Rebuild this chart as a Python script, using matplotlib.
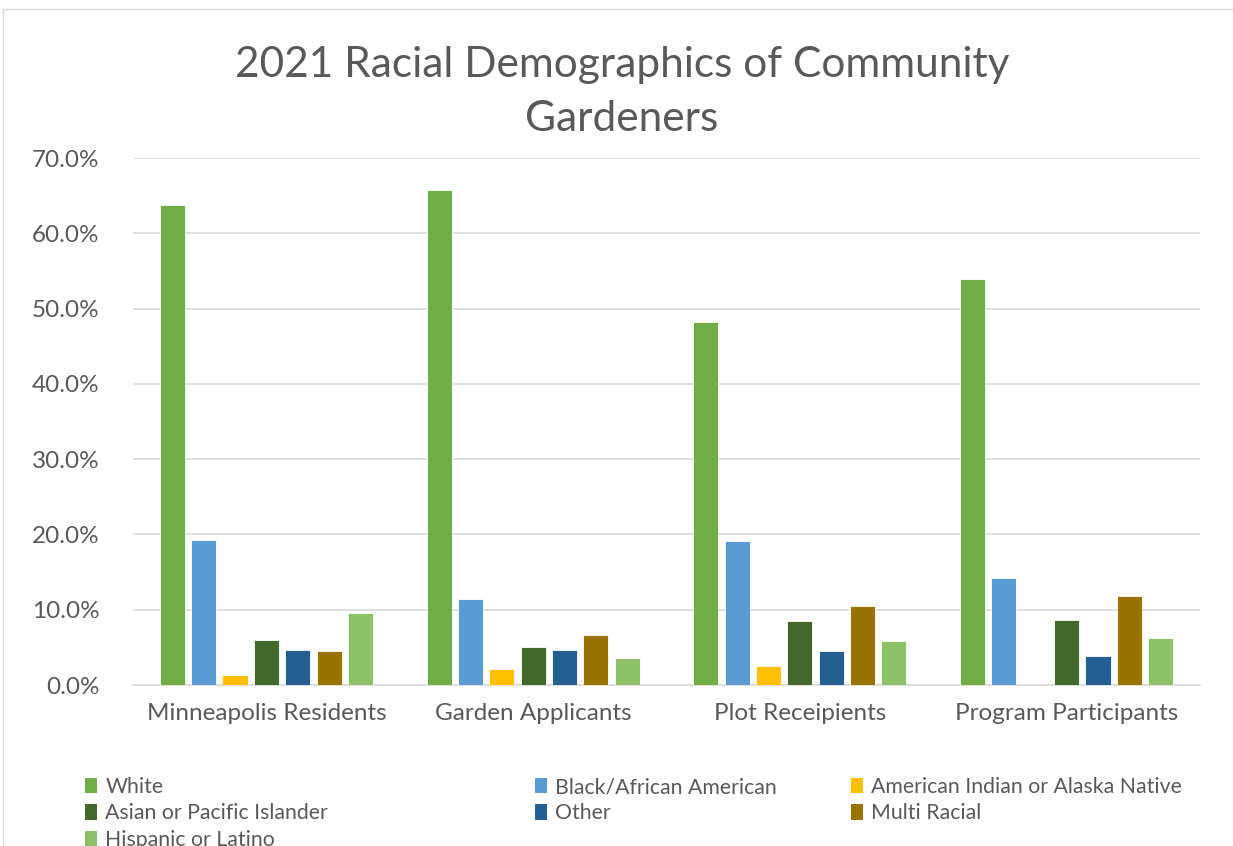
import numpy as np
import matplotlib.pyplot as plt
from matplotlib.patches import Rectangle, Patch

groups = ["Minneapolis Residents", "Garden Applicants", "Plot Receipients", "Program Participants"]
races = ["White", "Black/African American", "American Indian or Alaska Native",
         "Asian or Pacific Islander", "Other", "Multi Racial", "Hispanic or Latino"]
colors = ["#70ad47", "#5b9bd5", "#ffc000", "#43682b", "#255e91", "#997300", "#8cc168"]

white = [63.7, 65.7, 48.2, 53.9]
black = [19.3, 11.4, 19.1, 14.2]
am_indian = [1.3, 2.1, 2.5, 0.0]
asian = [6.0, 5.1, 8.5, 8.6]
other = [4.6, 4.7, 4.5, 3.9]
multi = [4.5, 6.6, 10.5, 11.8]
hispanic = [9.5, 3.6, 5.9, 6.2]
series = [white, black, am_indian, asian, other, multi, hispanic]

plt.rcParams['font.family'] = ['Lato', 'DejaVu Sans']
txt = "#595959"

fig = plt.figure(figsize=(12.33, 8.46), dpi=100)
ax = fig.add_axes([133/1233, 1 - 685/846, (1200-133)/1233, (685-158)/846])

x = np.arange(len(groups))
step = 0.1175
bw = 0.094
for i, (vals, c) in enumerate(zip(series, colors)):
    ax.bar(x + (i - 3) * step, vals, bw, color=c, edgecolor="white", linewidth=0.6,
           label=races[i], zorder=3)

ax.set_xlim(-0.5, 3.5)
ax.set_ylim(0, 70)
ax.set_yticks(np.arange(0, 71, 10))
ax.set_yticklabels([f"{v:.1f}%" for v in np.arange(0, 71, 10)])
ax.set_xticks(x)
ax.set_xticklabels(groups)
ax.grid(axis="y", color="#d9d9d9", linewidth=1.2, zorder=0)
for s in ["top", "right", "left"]:
    ax.spines[s].set_visible(False)
ax.spines["bottom"].set_color("#d9d9d9")
ax.spines["bottom"].set_linewidth(1.2)
ax.tick_params(axis="both", length=0, labelsize=17.5, colors=txt)
ax.tick_params(axis="y", pad=24)
ax.tick_params(axis="x", pad=13)

fig.text(622/1233, 1 - 92/846, "2021 Racial Demographics of Community\nGardeners",
         ha="center", va="center", fontsize=30.5, color=txt, linespacing=1.5)

# legend in three columns, Excel style (last row is clipped like the original)
cols = [[0, 3, 6], [1, 4], [2, 5]]
col_x = [85, 535, 851]
for ci, idx in enumerate(cols):
    handles = [Patch(facecolor=colors[k], edgecolor="none") for k in idx]
    fig.legend(handles, [races[k] for k in idx], loc="upper left",
               bbox_to_anchor=(col_x[ci]/1233, 1 - 777/846), frameon=False,
               fontsize=15.3, labelcolor=txt, handlelength=0.55, handleheight=0.75,
               handletextpad=0.4, labelspacing=0.3, borderpad=0, borderaxespad=0)

fig.patches.append(Rectangle((3/1233, -0.01), 1.02, 1 - 9/846 + 0.01, transform=fig.transFigure,
                             fill=False, edgecolor="#d9d9d9", linewidth=1))

fig.savefig("out.png", dpi=100)
